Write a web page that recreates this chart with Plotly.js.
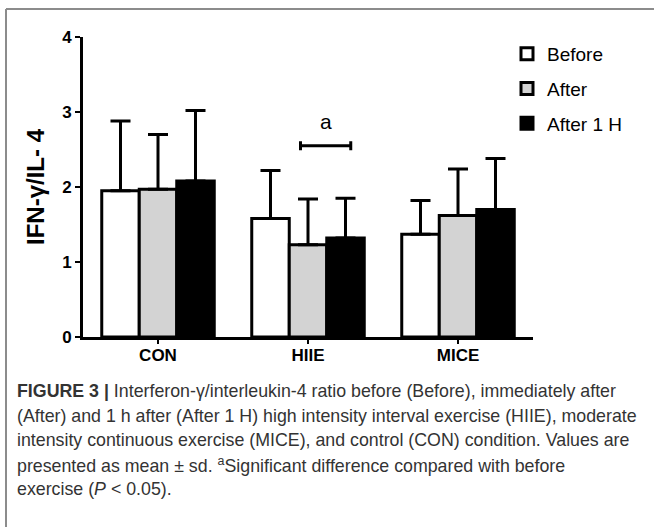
<!DOCTYPE html>
<html>
<head>
<meta charset="utf-8">
<script src="https://cdn.plot.ly/plotly-3.0.1.min.js"></script>
<style>
html,body{margin:0;padding:0;background:#fff;}
#chart{width:654px;height:527px;}
</style>
</head>
<body>
<div id="chart"></div>
<script>
// ---- data ----
const categories = ["CON", "HIIE", "MICE"];
const seriesNames = ["Before", "After", "After 1 H"];
const beforeMean = [1.95, 1.58, 1.37];
const beforeSD   = [0.93, 0.64, 0.45];
const afterMean  = [1.97, 1.23, 1.62];
const afterSD    = [0.73, 0.61, 0.62];
const after1hMean = [2.08, 1.32, 1.70];
const after1hSD   = [0.94, 0.53, 0.68];
const yTicks = [0, 1, 2, 3, 4];
const yTitle = "IFN-γ/IL- 4";
const sigLabel = "a";
const captionLines = [
  "<b>FIGURE 3 |</b> Interferon-γ/interleukin-4 ratio before (Before), immediately after",
  "(After) and 1 h after (After 1 H) high intensity interval exercise (HIIE), moderate",
  "intensity continuous exercise (MICE), and control (CON) condition. Values are",
  "presented as mean ± sd. <sup>a</sup>Significant difference compared with before",
  "exercise (<i>P</i> &lt; 0.05)."
];

const means = [beforeMean, afterMean, after1hMean];
const sds = [beforeSD, afterSD, after1hSD];
const fills = ["#ffffff", "#d3d3d3", "#000000"];

const traces = seriesNames.map((name, i) => ({
  type: "bar",
  name: name,
  x: categories,
  y: means[i],
  legendgroup: "g" + i,
  marker: {color: fills[i], line: {color: "#000", width: 3}},
  error_y: {
    type: "data", symmetric: false,
    array: sds[i], arrayminus: sds[i].map(() => 0),
    color: "#000", thickness: 3, width: 10
  },
  hoverinfo: "skip"
}));

// plot area: left 83, right 533, top 37, bottom 337
const L = 83, R = 533, T = 37, B = 337;
const px = v => (v - L) / (R - L);
const py = v => (B - v) / (B - T);

const annotations = [{
  xref: "x", yref: "y", x: 1.12, y: 2.87, text: sigLabel, showarrow: false,
  font: {family: "Liberation Sans, Arial, sans-serif", size: 21, color: "#000"}
}];
const lineY = [391, 416, 440, 465, 489];
captionLines.forEach((t, i) => annotations.push({
  xref: "paper", yref: "paper", x: px(15), y: py(lineY[i]),
  xanchor: "left", yanchor: "middle", align: "left", showarrow: false, text: t,
  font: {family: "Liberation Sans, Arial, sans-serif", size: 17.8, color: "#333"}
}));

const shapes = [
  // figure frame (top and left)
  {type: "line", xref: "paper", yref: "paper", x0: px(6), x1: px(660), y0: py(9), y1: py(9),
   line: {color: "#8c8c8c", width: 2}},
  {type: "line", xref: "paper", yref: "paper", x0: px(6), x1: px(6), y0: py(9), y1: py(530),
   line: {color: "#8c8c8c", width: 2}},
  // significance bracket
  {type: "line", xref: "x", yref: "y", x0: 0.95, x1: 1.285, y0: 2.55, y1: 2.55, line: {color: "#000", width: 3}},
  {type: "line", xref: "x", yref: "y", x0: 0.95, x1: 0.95, y0: 2.49, y1: 2.61, line: {color: "#000", width: 3}},
  {type: "line", xref: "x", yref: "y", x0: 1.285, x1: 1.285, y0: 2.49, y1: 2.61, line: {color: "#000", width: 3}}
];

const axisFont = {family: "Liberation Sans, Arial, sans-serif", size: 17, color: "#000", weight: "bold"};

const layout = {
  width: 654, height: 527,
  margin: {l: L, r: 654 - R, t: T, b: 527 - B},
  paper_bgcolor: "#fff", plot_bgcolor: "#fff",
  barmode: "group", bargap: 0.25, bargroupgap: 0,
  showlegend: true,
  legend: {
    x: px(507), y: py(35), xanchor: "left", yanchor: "top",
    font: {family: "Liberation Sans, Arial, sans-serif", size: 19, color: "#000"},
    traceorder: "grouped", tracegroupgap: 7, bgcolor: "rgba(0,0,0,0)"
  },
  xaxis: {
    type: "category", range: [-0.5, 2.5],
    showline: true, linecolor: "#000", linewidth: 3,
    ticks: "outside", ticklen: 4, tickwidth: 2, tickcolor: "#000",
    ticklabelstandoff: -3,
    tickfont: axisFont, showgrid: false, zeroline: false, fixedrange: true
  },
  yaxis: {
    range: [0, 4], tickvals: yTicks, ticktext: yTicks.map(String),
    showline: true, linecolor: "#000", linewidth: 3,
    ticks: "outside", ticklen: 5, tickwidth: 2, tickcolor: "#000",
    tickfont: axisFont, showgrid: false, zeroline: false, fixedrange: true,
    title: {text: yTitle, font: {family: "Liberation Sans, Arial, sans-serif", size: 24, color: "#000", weight: "bold"}, standoff: 11}
  },
  annotations: annotations,
  shapes: shapes
};

Plotly.newPlot("chart", traces, layout, {displayModeBar: false, staticPlot: true});
</script>
</body>
</html>
